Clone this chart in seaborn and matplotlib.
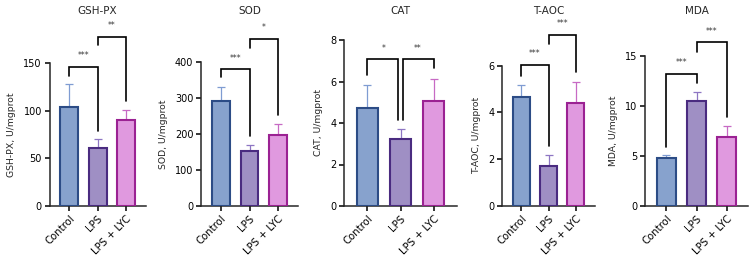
import numpy as np
import pandas as pd
import seaborn as sns
import matplotlib
matplotlib.use('Agg')
import matplotlib.pyplot as plt

# Group names and bar colours
groups = ['Control', 'LPS', 'LPS + LYC']
fills = ['#7b9fd9', '#9c86cd', '#ec8dea']
edges = ['#2c4c86', '#4a2b80', '#9b2293']
errcols = ['#7f9cd2', '#8e76c3', '#c76ac4']

# Means and SD
gsh_mean = [104, 61, 90]
gsh_sd = [24, 9, 11]
sod_mean = [293, 153, 197]
sod_sd = [39, 17, 32]
cat_mean = [4.74, 3.23, 5.06]
cat_sd = [1.08, 0.47, 1.06]
taoc_mean = [4.66, 1.72, 4.42]
taoc_sd = [0.51, 0.46, 0.89]
mda_mean = [4.77, 10.5, 6.87]
mda_sd = [0.36, 0.9, 1.13]

titles = ['GSH-PX', 'SOD', 'CAT', 'T-AOC', 'MDA']
ylabels = ['GSH-PX, U/mgprot', 'SOD, U/mgprot', 'CAT, U/mgprot',
           'T-AOC, U/mgprot', 'MDA, U/mgprot']
yticks = [[0, 50, 100, 150], [0, 100, 200, 300, 400], [0, 2, 4, 6, 8],
          [0, 2, 4, 6], [0, 5, 10, 15]]

# significance brackets: (bar a, bar b, top, left leg end, right leg end, label)
gsh_sig = [(0, 1, 146, 137, 79, '***'), (1, 2, 178, 169, 110, '**')]
sod_sig = [(0, 1, 380, 358, 195, '***'), (1, 2, 466, 440, 253, '*')]
cat_sig = [(0, 1, 7.07, 6.31, 4.14, '*'), (1, 2, 7.07, 4.14, 6.64, '**')]
taoc_sig = [(0, 1, 6.03, 5.56, 2.55, '***'), (1, 2, 7.31, 6.91, 5.72, '***')]
mda_sig = [(0, 1, 13.2, 5.93, 12.27, '***'), (1, 2, 16.37, 15.43, 8.93, '***')]

panels = [(gsh_mean, gsh_sd, gsh_sig), (sod_mean, sod_sd, sod_sig),
          (cat_mean, cat_sd, cat_sig), (taoc_mean, taoc_sd, taoc_sig),
          (mda_mean, mda_sd, mda_sig)]

sns.set_theme(style="ticks")
plt.rcParams['font.family'] = ['DejaVu Sans']
plt.rcParams['axes.linewidth'] = 1.1

W, H = 749, 266
fig = plt.figure(figsize=(W / 100, H / 100), dpi=100)

# axes boxes in pixels: left, right, top (bottom is shared)
boxes = [(49.5, 145.7, 63.3), (201, 298, 62.3), (344, 457, 40),
         (502, 595, 65.7), (645, 748, 56)]
bottom = 206

for k, (mean, sd, sig) in enumerate(panels):
    l, r, t = boxes[k]
    ax = fig.add_axes([l / W, (H - bottom) / H, (r - l) / W, (bottom - t) / H])
    df = pd.DataFrame({'group': groups, 'value': mean})
    sns.barplot(data=df, x='group', y='value', hue='group', palette=fills,
                width=0.63, errorbar=None, legend=False, ax=ax, zorder=3)
    for p, ec in zip(ax.patches, edges):
        p.set_edgecolor(ec)
        p.set_linewidth(1.5)
    x = np.arange(len(groups))
    for i in range(len(groups)):
        ax.errorbar(x[i], mean[i], yerr=[[0], [sd[i]]], fmt='none',
                    ecolor=errcols[i], elinewidth=0.9, capsize=3.2,
                    capthick=0.9, zorder=2)

    ymax = yticks[k][-1]
    ax.set_ylim(0, ymax)
    ax.set_yticks(yticks[k])
    ax.set_xlim(-0.7, 2.7)
    ax.set_xlabel('')
    ax.set_ylabel(ylabels[k], fontsize=6.7, labelpad=5)
    ax.tick_params(axis='both', labelsize=7, length=3.5, width=1.1, pad=2,
                   colors='black')
    ax.set_xticks(x)
    ax.set_xticklabels(groups, rotation=45, ha='right', rotation_mode='anchor',
                       fontsize=7.3)
    sns.despine(ax=ax)

    # brackets
    for a, b, top, ya, yb, lab in sig:
        xa, xb = float(a), float(b)
        for a2, b2, top2, *_ in sig:
            if top2 == top and (a2, b2) != (a, b):
                if b2 == a:
                    xa += 0.09
                if a2 == b:
                    xb -= 0.09
        ax.plot([xa, xa, xb, xb], [ya, top, top, yb], color='black',
                lw=1.2, clip_on=False, solid_joinstyle='miter', zorder=4)
        ax.annotate(lab, xy=((a + b) / 2, top), xytext=(0, 8),
                    textcoords='offset points', ha='center', va='center',
                    fontsize=5.5, color='#333333', annotation_clip=False)

    fig.text((l + r) / 2 / W, 1 - 11 / H, titles[k], ha='center', va='center',
             fontsize=7.5)

fig.savefig('out.png', dpi=100)
